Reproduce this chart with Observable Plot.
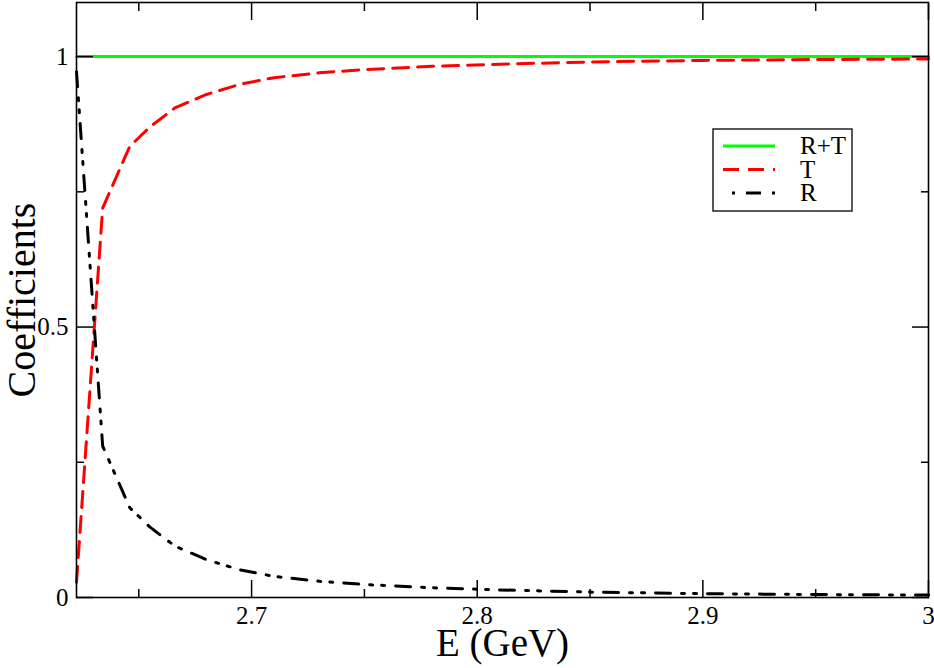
<!DOCTYPE html>
<html><head><meta charset="utf-8">
<script src="https://cdn.jsdelivr.net/npm/d3@7"></script>
<script src="https://cdn.jsdelivr.net/npm/@observablehq/plot@0.6"></script>
<style>
body{margin:0;background:#fff}
#chart{width:934px;height:668px}
#chart svg, #chart svg text{font-family:"Liberation Serif", "Times New Roman", serif !important}
</style>
</head><body><div id="chart"></div>
<script>
const energy       = [2.6224, 2.634, 2.646, 2.655, 2.666, 2.68, 2.695, 2.71, 2.73, 2.75, 2.78, 2.81, 2.85, 2.9, 2.95, 3.0];
const transmission = [0.028, 0.72, 0.834, 0.87, 0.905, 0.93, 0.949, 0.961, 0.97, 0.976, 0.982, 0.986, 0.99, 0.993, 0.9945, 0.9955];
const reflection   = [0.972, 0.28, 0.166, 0.13, 0.095, 0.07, 0.051, 0.039, 0.03, 0.024, 0.018, 0.014, 0.010, 0.007, 0.0055, 0.0045];
const sumRT        = [1, 1, 1, 1, 1, 1, 1, 1, 1, 1, 1, 1, 1, 1, 1, 1];
const xMajor = [2.7, 2.8, 2.9, 3];
const xMajorLabels = ["2.7", "2.8", "2.9", "3"];
const xMinor = [2.65, 2.75, 2.85, 2.95];
const yMajor = [0, 0.5, 1];
const yMajorLabels = ["0", "0.5", "1"];
const yMinor = [0.25, 0.75];
const legendLabels = ["R+T", "T", "R"];

const data = energy.map((e, i) => ({e, t: transmission[i], r: reflection[i], s: sumRT[i]}));
const font = '"Liberation Serif", "Times New Roman", serif';

const plot = Plot.plot({
  width: 934, height: 668,
  marginLeft: 76, marginRight: 6, marginTop: 2, marginBottom: 71,
  x: {domain: [2.6224, 3]},
  y: {domain: [0, 1.1]},
  style: {fontFamily: font, fontSize: "24px", color: "#000", background: "#fff"},
  marks: [
    Plot.line(data, {x: "e", y: "s", stroke: "#00ff00", strokeWidth: 3}),
    Plot.line(data, {x: "e", y: "t", stroke: "#ff0000", strokeWidth: 3, strokeDasharray: "16,9"}),
    Plot.line(data, {x: "e", y: "r", stroke: "#000", strokeWidth: 3, strokeDasharray: "15,11,3,9,3,11"}),
    Plot.frame({stroke: "#000", strokeWidth: 1.6}),
    Plot.axisX(xMajor, {anchor: "bottom", tickSize: -17, fill: "none", label: null, strokeWidth: 1.5}),
    Plot.axisX(xMinor, {anchor: "bottom", tickSize: -8, fill: "none", label: null, strokeWidth: 1.5}),
    Plot.axisX(xMajor, {anchor: "top", tickSize: -17, fill: "none", label: null, strokeWidth: 1.5}),
    Plot.axisX(xMinor, {anchor: "top", tickSize: -8, fill: "none", label: null, strokeWidth: 1.5}),
    Plot.axisY(yMajor, {anchor: "left", tickSize: -17, fill: "none", label: null, strokeWidth: 1.5}),
    Plot.axisY(yMinor, {anchor: "left", tickSize: -8, fill: "none", label: null, strokeWidth: 1.5}),
    Plot.axisY(yMajor, {anchor: "right", tickSize: -17, fill: "none", label: null, strokeWidth: 1.5}),
    Plot.axisY(yMinor, {anchor: "right", tickSize: -8, fill: "none", label: null, strokeWidth: 1.5}),
    Plot.text(xMajor, {x: d => d, frameAnchor: "bottom", dy: 9, lineAnchor: "top", textAnchor: "middle", fontSize: 25, fontFamily: font,
      text: (d, i) => xMajorLabels[i]}),
    Plot.text(yMajor, {y: d => d, frameAnchor: "left", dx: -8, textAnchor: "end", fontSize: 25, fontFamily: font,
      text: (d, i) => yMajorLabels[i]}),
    Plot.text(["E (GeV)"], {frameAnchor: "bottom", dy: 58, lineAnchor: "bottom", textAnchor: "middle", fontSize: 39, fontFamily: font}),
    Plot.text(["Coefficients"], {frameAnchor: "left", dx: -42, rotate: -90, lineAnchor: "bottom", textAnchor: "middle", fontSize: 40, fontFamily: font})
  ]
});
document.getElementById("chart").appendChild(plot);

// legend inside plot
const svg = d3.select(plot);
const g = svg.append("g").attr("font-family", font).attr("font-size", 25).attr("text-anchor", "start");
g.append("rect").attr("x", 713).attr("y", 129).attr("width", 139).attr("height", 82)
  .attr("fill", "#fff").attr("stroke", "#222").attr("stroke-width", 1.5);
const styles = [
  {stroke: "#00ff00", dash: null, off: 0},
  {stroke: "#ff0000", dash: "16,9", off: 0},
  {stroke: "#000", dash: "15,11,3,9,3,11", off: 29}
];
legendLabels.forEach((lab, i) => {
  const yy = 146 + i * 23.5;
  const ln = g.append("line").attr("x1", 723).attr("x2", 775).attr("y1", yy).attr("y2", yy)
    .attr("stroke", styles[i].stroke).attr("stroke-width", 3);
  if (styles[i].dash) ln.attr("stroke-dasharray", styles[i].dash).attr("stroke-dashoffset", styles[i].off);
  g.append("text").attr("x", 800).attr("y", yy + 8).attr("fill", "#000").text(lab);
});
</script></body></html>
